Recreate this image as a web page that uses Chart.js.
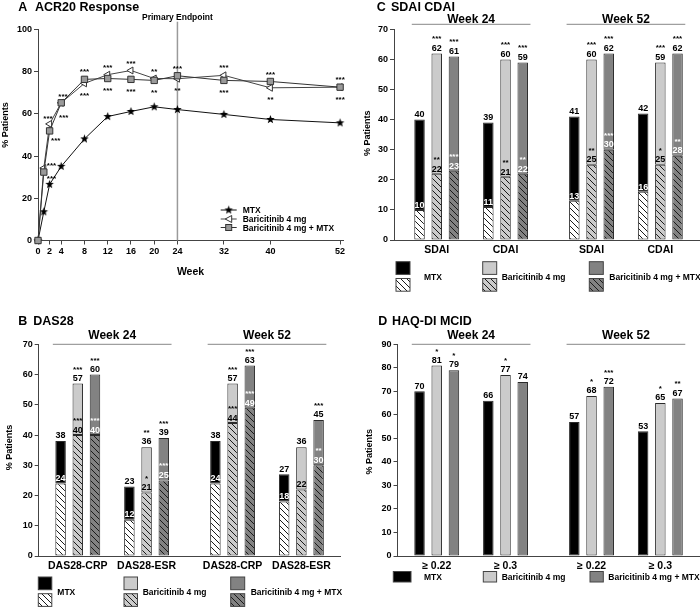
<!DOCTYPE html>
<html><head><meta charset="utf-8">
<script src="https://cdn.jsdelivr.net/npm/chart.js@4.4.1/dist/chart.umd.min.js"></script>
<style>
html,body{margin:0;padding:0;background:#fff}
body{width:700px;height:608px;position:relative;overflow:hidden}
canvas{position:absolute;display:block}
</style></head><body>
<canvas id="cA" width="350" height="300" style="left:0;top:0;width:350px;height:300px"></canvas>
<canvas id="cC" width="350" height="300" style="left:350px;top:0;width:350px;height:300px"></canvas>
<canvas id="cB" width="350" height="308" style="left:0;top:300px;width:350px;height:308px"></canvas>
<canvas id="cD" width="350" height="308" style="left:350px;top:300px;width:350px;height:308px"></canvas>
<script>
const FONT = 'Arial, "Liberation Sans", Helvetica, sans-serif';
Chart.defaults.font.family = FONT;
Chart.defaults.color = '#000';

// ---------- DATA ----------
const seriesNames = ['MTX', 'Baricitinib 4 mg', 'Baricitinib 4 mg + MTX'];
const weekHeaders = ['Week 24', 'Week 52'];

// Panel A: ACR20 response over time
const weeks = [0, 1, 2, 4, 8, 12, 16, 20, 24, 32, 40, 52];
const weekTicks = [0, 2, 4, 8, 12, 16, 20, 24, 32, 40, 52];
const acrMTX = [0, 13.6, 26.6, 35.1, 48.1, 58.7, 61.1, 63.3, 62.0, 59.7, 57.3, 55.7];
const acrBari = [0, 34.3, 55.2, 65.2, 74.4, 78.5, 80.5, 76.7, 76.6, 78.2, 72.3, 72.6];
const acrCombo = [0, 32.4, 51.9, 65.2, 76.3, 76.7, 76.3, 75.8, 78.0, 75.8, 75.3, 72.6];
const acrStarsUpper = ['', '***', '***', '***', '***', '***', '***', '**', '***', '***', '***', '***'];
const acrStarsLower = ['', '***', '***', '***', '***', '***', '***', '**', '**', '***', '**', '***'];

// Panel B: DAS28
const dasCats = ['DAS28-CRP', 'DAS28-ESR', 'DAS28-CRP', 'DAS28-ESR'];
const dasMTX = [38, 23, 38, 27];
const dasMTXRem = [24, 12, 24, 18];
const dasBari = [57, 36, 57, 36];
const dasBariRem = [40, 21, 44, 22];
const dasCombo = [60, 39, 63, 45];
const dasComboRem = [40, 25, 49, 30];
const dasBariStars = ['***', '**', '***', ''];
const dasBariRemStars = ['***', '*', '***', ''];
const dasComboStars = ['***', '***', '***', '***'];
const dasComboRemStars = ['***', '***', '***', '**'];

// Panel C: SDAI / CDAI
const sdaiCats = ['SDAI', 'CDAI', 'SDAI', 'CDAI'];
const sdMTX = [40, 39, 41, 42];
const sdMTXRem = [10, 11, 13, 16];
const sdBari = [62, 60, 60, 59];
const sdBariRem = [22, 21, 25, 25];
const sdCombo = [61, 59, 62, 62];
const sdComboRem = [23, 22, 30, 28];
const sdBariStars = ['***', '***', '***', '***'];
const sdBariRemStars = ['**', '**', '**', '*'];
const sdComboStars = ['***', '***', '***', '***'];
const sdComboRemStars = ['***', '**', '***', '**'];

// Panel D: HAQ-DI MCID
const haqCats = ['≥ 0.22', '≥ 0.3', '≥ 0.22', '≥ 0.3'];
const haqMTX = [70, 66, 57, 53];
const haqBari = [81, 77, 68, 65];
const haqCombo = [79, 74, 72, 67];
const haqBariStars = ['*', '*', '*', '*'];
const haqComboStars = ['*', '', '***', '**'];

// ---------- STYLE / LAYOUT ----------
const BAR_COLORS = ['#000000', '#cbcbcb', '#828282'];
const HATCH_BG = ['#ffffff', '#cbcbcb', '#828282'];
const GROUP_POS = [0, 1, 2.25, 3.25];
const BAR_OFFSET = [-0.25, 0, 0.25];
const BAR_W = 10.5;

function txt(ctx, s, x, y, size, color, align, kind) {
  if (!s) return;
  ctx.font = 'bold ' + size + 'px ' + FONT;
  ctx.fillStyle = color;
  ctx.textAlign = align || 'center';
  ctx.textBaseline = 'alphabetic';
  ctx.fillText(s, x, y + (kind === 'star' ? 0.57 : 0.36) * size);
}
function hatch(bg) {
  const s = 6, c = document.createElement('canvas');
  c.width = s; c.height = s;
  const g = c.getContext('2d');
  g.fillStyle = bg; g.fillRect(0, 0, s, s);
  g.strokeStyle = '#1a1a1a'; g.lineWidth = 1;
  g.beginPath();
  g.moveTo(-1, -1); g.lineTo(s + 1, s + 1);
  g.moveTo(-1, s - 1); g.lineTo(1, s + 1);
  g.moveTo(s - 1, -1); g.lineTo(s + 1, 1);
  g.stroke();
  return g.createPattern(c, 'repeat');
}
const HATCH = HATCH_BG.map(hatch);
function starImage(r) {
  const s = Math.ceil(2 * r + 2), c = document.createElement('canvas');
  c.width = s; c.height = s;
  const g = c.getContext('2d');
  g.fillStyle = '#000'; g.beginPath();
  for (let i = 0; i < 10; i++) {
    const rr = i % 2 ? r * 0.42 : r, a = -Math.PI / 2 + i * Math.PI / 5;
    g.lineTo(s / 2 + rr * Math.cos(a), s / 2 + rr * Math.sin(a));
  }
  g.closePath(); g.fill();
  return c;
}
const STAR = starImage(4.5);
function marker(ctx, k, x, y) {
  if (k === 0) { ctx.drawImage(STAR, x - STAR.width / 2, y - STAR.height / 2); return; }
  ctx.lineWidth = 1; ctx.strokeStyle = '#333';
  if (k === 1) {
    ctx.fillStyle = '#fff'; ctx.beginPath();
    ctx.moveTo(x - 3.5, y); ctx.lineTo(x + 3, y - 3.5); ctx.lineTo(x + 3, y + 3.5); ctx.closePath();
    ctx.fill(); ctx.stroke();
  } else {
    ctx.fillStyle = '#9a9a9a'; ctx.fillRect(x - 3, y - 3, 6, 6); ctx.strokeRect(x - 3, y - 3, 6, 6);
  }
}
function rotText(ctx, s, x, y, size) {
  ctx.save(); ctx.translate(x, y); ctx.rotate(-Math.PI / 2);
  txt(ctx, s, 0, 0, size, '#000', 'center'); ctx.restore();
}

// ---------- PANEL A ----------
const acrStarNudge = { 1: [[7.7, -5], [7.7, 4.3]], 2: [[-1.6, -7], [6.1, 7.3]], 4: [[1.8, -8.7], [2.5, 12.6]] };
const acrPlugin = {
  id: 'acrDeco',
  beforeDatasetsDraw(chart) {
    const { ctx, scales: { x } } = chart;
    const px = x.getPixelForValue(24);
    ctx.save(); ctx.strokeStyle = '#9a9a9a'; ctx.lineWidth = 1.5;
    ctx.beginPath(); ctx.moveTo(px, 21.7); ctx.lineTo(px, chart.chartArea.bottom); ctx.stroke();
    ctx.restore();
  },
  afterDraw(chart) {
    const { ctx, scales: { x, y }, chartArea } = chart;
    ctx.save();
    txt(ctx, 'A', 18.3, 6, 12.5, '#000', 'left');
    txt(ctx, 'ACR20 Response', 35, 6, 12.5, '#000', 'left');
    txt(ctx, 'Primary Endpoint', x.getPixelForValue(24), 16.7, 8.5, '#000', 'center');
    txt(ctx, 'Week', (chartArea.left + chartArea.right) / 2, 271, 10.5, '#000', 'center');
    rotText(ctx, '% Patients', 4.8, 125, 9);
    weeks.forEach((w, i) => {
      if (!acrStarsUpper[i] && !acrStarsLower[i]) return;
      const px = x.getPixelForValue(w);
      const pb = y.getPixelForValue(acrBari[i]), pc = y.getPixelForValue(acrCombo[i]);
      const top = Math.min(pb, pc), bot = Math.max(pb, pc);
      const n = acrStarNudge[w] || [[0, -9.5], [0, 10]];
      txt(ctx, acrStarsUpper[i], px + n[0][0], top + n[0][1], 8, '#000', 'center', 'star');
      txt(ctx, acrStarsLower[i], px + n[1][0], bot + n[1][1], 8, '#000', 'center', 'star');
    });
    const legY = [210, 219, 227.5], lineCol = ['#111', '#444', '#333'];
    for (let k = 0; k < 3; k++) {
      ctx.strokeStyle = lineCol[k]; ctx.lineWidth = 1;
      ctx.beginPath(); ctx.moveTo(220.7, legY[k]); ctx.lineTo(236.7, legY[k]); ctx.stroke();
      marker(ctx, k, 228.7, legY[k]);
      txt(ctx, seriesNames[k], 242.7, legY[k], 8.5, '#000', 'left');
    }
    ctx.restore();
  }
};
new Chart(document.getElementById('cA'), {
  type: 'line',
  data: {
    datasets: [
      { label: seriesNames[0], data: weeks.map((w, i) => ({ x: w, y: acrMTX[i] })), borderColor: '#111', borderWidth: 1,
        pointStyle: STAR, pointRadius: 5, clip: false, order: 2 },
      { label: seriesNames[1], data: weeks.map((w, i) => ({ x: w, y: acrBari[i] })), borderColor: '#444', borderWidth: 1,
        pointStyle: 'triangle', pointRotation: 270, pointRadius: 4, pointBackgroundColor: '#fff', pointBorderColor: '#333',
        pointBorderWidth: 1, clip: false, order: 1 },
      { label: seriesNames[2], data: weeks.map((w, i) => ({ x: w, y: acrCombo[i] })), borderColor: '#333', borderWidth: 1,
        pointStyle: 'rect', pointRadius: 4.5, pointBackgroundColor: '#9a9a9a', pointBorderColor: '#333',
        pointBorderWidth: 1, clip: false, order: 0 }
    ]
  },
  options: {
    responsive: false, animation: false, devicePixelRatio: 1,
    layout: { padding: { left: 0, top: 29.3, right: 7, bottom: 39.5 } },
    plugins: { legend: { display: false }, tooltip: { enabled: false } },
    elements: { line: { tension: 0 } },
    scales: {
      x: {
        type: 'linear', min: 0, max: 52.5,
        afterBuildTicks: a => { a.ticks = weekTicks.map(v => ({ value: v })); },
        afterFit: s => { s.height = 20; },
        ticks: { autoSkip: false, maxRotation: 0, padding: 2, font: { size: 9, weight: 'bold' }, color: '#000' },
        grid: { display: true, drawOnChartArea: false, drawTicks: true, tickLength: 4, color: '#444' },
        border: { display: true, color: '#444', width: 1 }
      },
      y: {
        min: 0, max: 100,
        afterFit: s => { s.width = 38; },
        ticks: { stepSize: 20, padding: 2, font: { size: 9, weight: 'bold' }, color: '#000' },
        grid: { display: true, drawOnChartArea: false, drawTicks: true, tickLength: 4, color: '#444' },
        border: { display: true, color: '#444', width: 1 }
      }
    }
  },
  plugins: [acrPlugin]
});

// ---------- BAR PANELS ----------
function barPlugin(P) {
  return {
    id: 'deco' + P.letter,
    afterDraw(chart) {
      const ctx = chart.ctx, xs = chart.scales.x, ys = chart.scales.y, ox = P.ox, oy = P.oy;
      ctx.save();
      txt(ctx, P.letter, P.titleX[0] - ox, P.titleY - oy, 12.5, '#000', 'left');
      txt(ctx, P.title, P.titleX[1] - ox, P.titleY - oy, 12.5, '#000', 'left');
      rotText(ctx, '% Patients', P.yTitle[0] - ox, P.yTitle[1] - oy, 9);
      weekHeaders.forEach((lab, w) => {
        const x1 = xs.getPixelForValue(GROUP_POS[2 * w] + BAR_OFFSET[0]) - BAR_W / 2 - 2.5;
        const x2 = xs.getPixelForValue(GROUP_POS[2 * w + 1] + BAR_OFFSET[2]) + BAR_W / 2 + 2.5;
        ctx.strokeStyle = '#888'; ctx.lineWidth = 1;
        ctx.beginPath(); ctx.moveTo(x1, P.weekLineY - oy); ctx.lineTo(x2, P.weekLineY - oy); ctx.stroke();
        txt(ctx, lab, (x1 + x2) / 2, P.weekTextY - oy, 12, '#000', 'center');
      });
      for (let t = 0; t < 3; t++) {
        for (let g = 0; g < P.cats.length; g++) {
          const cx = xs.getPixelForValue(GROUP_POS[g] + BAR_OFFSET[t]);
          const top = ys.getPixelForValue(P.totals[t][g]);
          txt(ctx, String(P.totals[t][g]), cx, top - 6, 9, '#000', 'center');
          if (P.topStars[t]) txt(ctx, P.topStars[t][g], cx, top - 16.5, 8, '#000', 'center', 'star');
          if (P.rems) {
            const rp = ys.getPixelForValue(P.rems[t][g]);
            const col = t === 1 ? '#000' : '#fff';
            txt(ctx, String(P.rems[t][g]), cx, rp - 5.5, 9, col, 'center');
            if (P.remStars[t]) txt(ctx, P.remStars[t][g], cx, rp - 16.5, 8, col, 'center', 'star');
          }
        }
      }
      const L = P.legend;
      for (let t = 0; t < 3; t++) {
        const bx = L.boxX[t] - ox;
        ctx.strokeStyle = '#444'; ctx.lineWidth = 1;
        ctx.fillStyle = BAR_COLORS[t];
        ctx.fillRect(bx, L.solidY - oy, L.boxW[t], L.boxH);
        ctx.strokeRect(bx, L.solidY - oy, L.boxW[t], L.boxH);
        if (L.hatchY !== undefined) {
          ctx.fillStyle = HATCH[t];
          ctx.fillRect(bx, L.hatchY - oy, L.boxW[t], L.boxH);
          ctx.strokeRect(bx, L.hatchY - oy, L.boxW[t], L.boxH);
        }
        txt(ctx, seriesNames[t], L.textX[t] - ox, L.textY - oy, 8.5, '#000', 'left');
      }
      ctx.restore();
    }
  };
}
function barChart(P) {
  const datasets = [];
  for (let t = 0; t < 3; t++) {
    const xs = P.cats.map((_, g) => GROUP_POS[g] + BAR_OFFSET[t]);
    if (P.rems) datasets.push({ label: seriesNames[t] + ' (lower)', data: xs.map((x, g) => ({ x, y: [0, P.rems[t][g]] })), backgroundColor: HATCH[t] });
    datasets.push({ label: seriesNames[t], data: xs.map((x, g) => ({ x, y: [P.rems ? P.rems[t][g] : 0, P.totals[t][g]] })), backgroundColor: BAR_COLORS[t] });
  }
  const W = 350, H = P.h;
  new Chart(document.getElementById(P.canvas), {
    type: 'bar',
    data: { datasets },
    options: {
      responsive: false, animation: false, devicePixelRatio: 1,
      layout: { padding: { left: 0, top: P.area.t - P.oy, right: P.ox + W - P.area.r, bottom: P.oy + H - P.area.b - 20 } },
      plugins: { legend: { display: false }, tooltip: { enabled: false } },
      datasets: { bar: { grouped: false, maxBarThickness: BAR_W, borderWidth: 1, borderColor: '#2a2a2a', borderSkipped: false } },
      scales: {
        x: {
          type: 'linear', min: P.xMin, max: P.xMax, offset: false,
          afterBuildTicks: a => { a.ticks = GROUP_POS.map(v => ({ value: v })); },
          afterFit: s => { s.height = 20; },
          grid: { display: false, drawTicks: false, offset: false },
          border: { display: true, color: '#444', width: 1 },
          ticks: { autoSkip: false, maxRotation: 0, minRotation: 0, padding: 4, font: { size: 10.5, weight: 'bold' }, color: '#000',
                   callback: (v, i) => P.cats[i] }
        },
        y: {
          min: 0, max: P.yMax,
          afterFit: s => { s.width = P.area.l - P.ox; },
          ticks: { stepSize: 10, padding: 2, font: { size: 9, weight: 'bold' }, color: '#000' },
          grid: { display: true, drawOnChartArea: false, drawTicks: true, tickLength: 4, color: '#444' },
          border: { display: true, color: '#444', width: 1 }
        }
      }
    },
    plugins: [barPlugin(P)]
  });
}

barChart({
  canvas: 'cB', letter: 'B', title: 'DAS28', ox: 0, oy: 300, h: 308,
  titleX: [18.3, 33.3], titleY: 320.7, yTitle: [9, 447.5],
  area: { l: 38.7, t: 344.3, r: 340, b: 556 }, xMin: -0.568, xMax: 3.811, yMax: 70,
  cats: dasCats, totals: [dasMTX, dasBari, dasCombo], rems: [dasMTXRem, dasBariRem, dasComboRem],
  topStars: [null, dasBariStars, dasComboStars], remStars: [null, dasBariRemStars, dasComboRemStars],
  weekTextY: 335, weekLineY: 344.3,
  legend: { boxX: [38.3, 124, 230.7], boxW: [13.5, 13.5, 14], boxH: 12.7, solidY: 577, hatchY: 593.7, textX: [57.3, 142.7, 250.7], textY: 592 }
});
barChart({
  canvas: 'cC', letter: 'C', title: 'SDAI CDAI', ox: 350, oy: 0, h: 300,
  titleX: [376.7, 391], titleY: 6, yTitle: [367, 133.3],
  area: { l: 394, t: 29.3, r: 699, b: 240 }, xMin: -0.621, xMax: 3.812, yMax: 70,
  cats: sdaiCats, totals: [sdMTX, sdBari, sdCombo], rems: [sdMTXRem, sdBariRem, sdComboRem],
  topStars: [null, sdBariStars, sdComboStars], remStars: [null, sdBariRemStars, sdComboRemStars],
  weekTextY: 18.3, weekLineY: 24.3,
  legend: { boxX: [396, 482.7, 589.3], boxW: [14, 14, 14], boxH: 12.7, solidY: 261.7, hatchY: 278.5, textX: [424, 501.7, 609.3], textY: 276.7 }
});
barChart({
  canvas: 'cD', letter: 'D', title: 'HAQ-DI MCID', ox: 350, oy: 300, h: 308,
  titleX: [378.3, 392], titleY: 320.7, yTitle: [369, 451.7],
  area: { l: 397.5, t: 344.3, r: 699, b: 556 }, xMin: -0.570, xMax: 3.812, yMax: 90,
  cats: haqCats, totals: [haqMTX, haqBari, haqCombo], rems: null,
  topStars: [null, haqBariStars, haqComboStars], remStars: null,
  weekTextY: 335, weekLineY: 344.3,
  legend: { boxX: [393.3, 483.3, 590], boxW: [17.7, 13.3, 13.3], boxH: 10.5, solidY: 571.5, textX: [424, 501.7, 608.3], textY: 576.7 }
});
</script></body></html>
